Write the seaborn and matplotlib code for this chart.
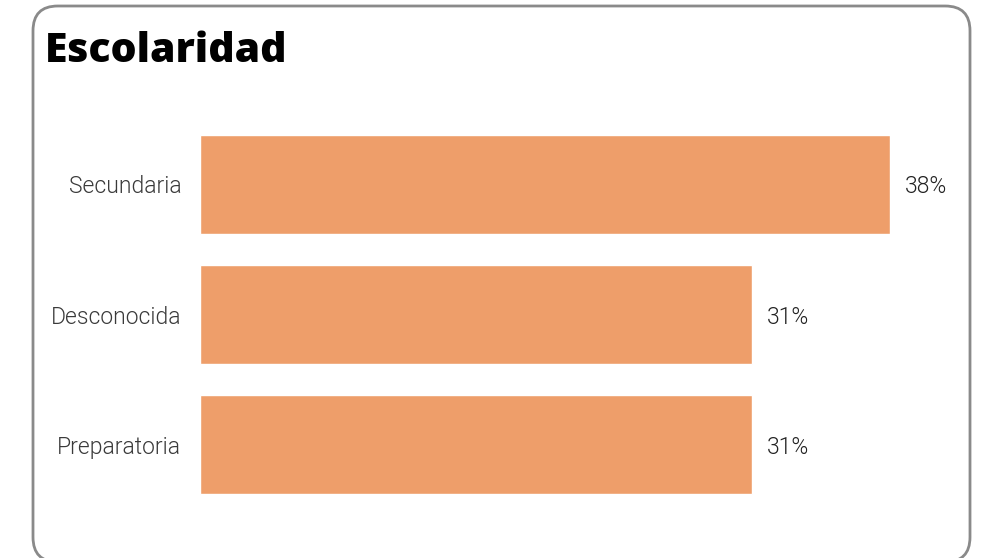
import matplotlib
matplotlib.use('Agg')
import matplotlib.pyplot as plt
import seaborn as sns
import pandas as pd
from matplotlib.patches import FancyBboxPatch

# Datos
categorias = ['Secundaria', 'Desconocida', 'Preparatoria']
porcentajes = [38.46, 30.77, 30.77]
etiquetas = ['38%', '31%', '31%']

df = pd.DataFrame({'categoria': categorias, 'pct': porcentajes})

sns.set_theme(style='white')
plt.rcParams['font.family'] = ['Roboto', 'DejaVu Sans']

fig = plt.figure(figsize=(9.93, 5.58), dpi=100)

# Marco redondeado
marco = FancyBboxPatch((33 / 993, (558 - 562) / 558), (970 - 33) / 993, (562 - 6) / 558,
                       boxstyle='round,pad=0,rounding_size=0.025',
                       transform=fig.transFigure, facecolor='none',
                       edgecolor='#8a8a8a', linewidth=2, zorder=0,
                       mutation_aspect=993 / 558)
fig.patches.append(marco)

ax = fig.add_axes([200 / 993, 1 - 510 / 558, 690 / 993, (510 - 119) / 558])
ax.set_zorder(2)
ax.patch.set_alpha(0)
sns.barplot(data=df, y='categoria', x='pct', color='#EE9E6A', saturation=1,
            width=0.76, ax=ax)

ax.set_xlim(0, 38.46)
ax.set_ylim(2.5, -0.5)
for i, txt in enumerate(etiquetas):
    ax.text(porcentajes[i] + 0.85, i + 0.02, txt, va='center', ha='left',
            fontsize=16.5, color='#222222', fontweight=300)

ax.set_xlabel('')
ax.set_ylabel('')
ax.set_xticks([])
ax.tick_params(axis='y', length=0, pad=13.5, labelsize=16.5, labelcolor='#3a3a3a')
for lab in ax.get_yticklabels():
    lab.set_fontweight(300)
sns.despine(ax=ax, left=True, bottom=True)

fig.text(45 / 993, 1 - 62 / 558, 'Escolaridad', fontsize=29.5, fontweight='heavy',
         family=['Open Sans', 'DejaVu Sans'], color='black', ha='left', va='baseline')

fig.savefig('out.png', dpi=100)
